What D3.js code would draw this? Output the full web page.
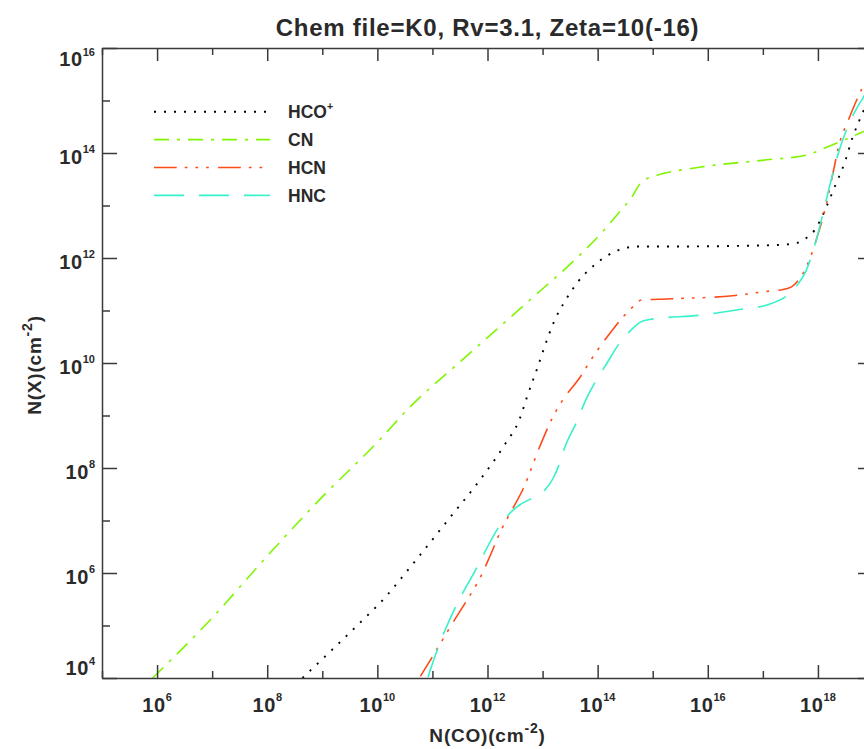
<!DOCTYPE html>
<html>
<head>
<meta charset="utf-8">
<script src="https://cdn.jsdelivr.net/npm/d3@7"></script>
<style>
  html, body { margin: 0; padding: 0; background: #fff; overflow: hidden; }
  svg { display: block; }
  text { font-family: "Liberation Sans", Arial, Helvetica, sans-serif; font-weight: bold; fill: #2a2a2a; }
</style>
</head>
<body>
<svg id="chart" width="864" height="749"></svg>
<script>
// Column densities N(X) against N(CO), both as log10(cm^-2).
const titleText = "Chem file=K0, Rv=3.1, Zeta=10(-16)";

const xMajorExps = [6, 8, 10, 12, 14, 16, 18];
const xMinorExps = [5, 7, 9, 11, 13, 15, 17, 19];
const yMajorExps = [4, 6, 8, 10, 12, 14, 16];
const yMinorExps = [5, 7, 9, 11, 13, 15];

const seriesNames = ["HCO", "CN", "HCN", "HNC"];
const seriesSups  = ["+", "", "", ""];

const hcoLogCO = [8.64, 9.2, 9.77, 10.04, 10.65, 11.26, 11.86, 12.31, 12.59, 12.71, 12.9, 13.09, 13.23, 13.42, 13.63, 13.89, 14.2, 14.55, 14.75, 15.5, 16.5, 17.3, 17.63, 17.79, 17.94, 18.03, 18.18, 18.33, 18.48, 18.63, 18.81, 19.0];
const hcoLogN  = [4.0, 4.56, 5.14, 5.42, 6.18, 6.98, 7.77, 8.44, 8.95, 9.33, 9.89, 10.47, 10.84, 11.2, 11.53, 11.82, 12.06, 12.2, 12.22, 12.22, 12.23, 12.25, 12.29, 12.38, 12.53, 12.69, 13.04, 13.42, 13.8, 14.3, 14.76, 15.2];

const cnLogCO = [5.92, 6.96, 8.05, 9.0, 10.0, 10.59, 11.5, 12.77, 13.68, 14.09, 14.4, 14.62, 14.76, 14.91, 15.09, 15.85, 17.07, 17.79, 18.16, 18.39, 18.81, 19.0];
const cnLogN  = [4.0, 5.1, 6.38, 7.45, 8.49, 9.16, 10.02, 11.2, 12.06, 12.5, 12.88, 13.16, 13.4, 13.52, 13.58, 13.73, 13.87, 13.96, 14.11, 14.21, 14.4, 14.48];

const hcnLogCO = [10.78, 10.98, 11.38, 11.59, 11.89, 12.04, 12.25, 12.46, 12.65, 12.95, 13.19, 13.37, 13.68, 13.91, 14.27, 14.64, 14.8, 15.25, 16.45, 17.12, 17.31, 17.52, 17.67, 17.79, 17.91, 18.0, 18.12, 18.27, 18.39, 18.55, 18.7, 18.82, 19.0];
const hcnLogN  = [4.03, 4.37, 5.07, 5.42, 5.96, 6.31, 6.82, 7.23, 7.61, 8.41, 8.98, 9.3, 9.73, 10.11, 10.63, 11.07, 11.2, 11.22, 11.28, 11.37, 11.39, 11.45, 11.61, 11.83, 12.15, 12.45, 12.88, 13.6, 14.18, 14.62, 15.0, 15.27, 15.65];

const hncLogCO = [10.92, 11.1, 11.41, 11.8, 12.19, 12.37, 12.59, 12.8, 13.04, 13.19, 13.31, 13.4, 13.62, 13.8, 13.98, 14.13, 14.4, 14.61, 14.76, 14.95, 15.85, 16.7, 17.06, 17.49, 17.67, 17.79, 17.97, 18.1, 18.21, 18.39, 18.57, 18.72, 18.83, 19.0];
const hncLogN  = [4.02, 4.57, 5.33, 6.09, 6.85, 7.1, 7.3, 7.42, 7.58, 7.8, 8.09, 8.38, 8.88, 9.33, 9.68, 9.93, 10.38, 10.63, 10.77, 10.83, 10.91, 11.04, 11.1, 11.33, 11.55, 11.77, 12.34, 12.88, 13.36, 14.06, 14.57, 14.88, 15.07, 15.4];

const seriesCO = [hcoLogCO, cnLogCO, hcnLogCO, hncLogCO];
const seriesN  = [hcoLogN, cnLogN, hcnLogN, hncLogN];

const seriesColors = ["#000000", "#7ff500", "#ff4a1a", "#35f2c8"];
const seriesDashes = ["2,8", "15,8,3,8", "22.7,8,2.7,8,2.7,8,2.7,9.3", "30,15"];
const seriesWidths = [1.9, 1.6, 1.6, 1.6];

// ---- layout ----
const plot = { left: 102, top: 48, right: 873, bottom: 678 };

const svg = d3.select("#chart");

const x = d3.scaleLog().domain([1e5, 1e19]).range([plot.left, plot.right]);
const y = d3.scaleLog().domain([1e4, 1e16]).range([plot.bottom, plot.top]);

svg.append("defs").append("clipPath").attr("id", "plotClip")
  .append("rect")
  .attr("x", plot.left).attr("y", plot.top)
  .attr("width", plot.right - plot.left).attr("height", plot.bottom - plot.top);

// ---- curves ----
const line = d3.line()
  .x(d => x(Math.pow(10, d[0])))
  .y(d => y(Math.pow(10, d[1])))
  .curve(d3.curveMonotoneX);

const curves = svg.append("g").attr("clip-path", "url(#plotClip)");
seriesNames.forEach((name, i) => {
  curves.append("path")
    .datum(d3.zip(seriesCO[i], seriesN[i]))
    .attr("fill", "none")
    .attr("stroke", seriesColors[i])
    .attr("stroke-width", seriesWidths[i])
    .attr("stroke-dasharray", seriesDashes[i])
    .attr("d", line);
});

// ---- axes: ticks point inward on all four sides ----
const axisColor = "#3a3a3a";
function styleAxis(g) {
  g.selectAll("path, line").attr("stroke", axisColor).attr("stroke-width", 1.5);
  g.selectAll("text").remove();
}
function addAxis(axis, exps, size, tx, ty, keepDomain) {
  const g = svg.append("g").attr("transform", `translate(${tx},${ty})`)
    .call(axis.tickValues(exps.map(e => Math.pow(10, e))).tickSize(size).tickSizeOuter(0).tickFormat(""));
  if (!keepDomain) g.select(".domain").remove();
  styleAxis(g);
}
// bottom
addAxis(d3.axisTop(x), xMajorExps, 13, 0, plot.bottom, true);
addAxis(d3.axisTop(x), xMinorExps, 7, 0, plot.bottom, false);
// top
addAxis(d3.axisBottom(x), xMajorExps, 13, 0, plot.top, true);
addAxis(d3.axisBottom(x), xMinorExps, 7, 0, plot.top, false);
// left
addAxis(d3.axisRight(y), yMajorExps, 15, plot.left, 0, true);
addAxis(d3.axisRight(y), yMinorExps, 8, plot.left, 0, false);
// right
addAxis(d3.axisLeft(y), yMajorExps, 15, plot.right, 0, true);
addAxis(d3.axisLeft(y), yMinorExps, 8, plot.right, 0, false);

// ---- tick labels (10 with superscript exponent) ----
function powerLabel(sel, exp) {
  sel.append("tspan").text("10");
  sel.append("tspan").attr("dy", -10.5).style("font-size", "11px").style("letter-spacing", "0px").text(exp);
}
xMajorExps.forEach(e => {
  const t = svg.append("text")
    .attr("x", x(Math.pow(10, e)))
    .attr("y", 711.5)
    .attr("text-anchor", "middle")
    .style("font-size", "20px")
    .style("letter-spacing", "0.6px");
  powerLabel(t, e);
});
yMajorExps.forEach(e => {
  let off = 10.5;
  if (e === yMajorExps[0]) off = -3;
  if (e === yMajorExps[yMajorExps.length - 1]) off = 18;
  const t = svg.append("text")
    .attr("x", 95)
    .attr("y", y(Math.pow(10, e)) + off)
    .attr("text-anchor", "end")
    .style("font-size", "20px")
    .style("letter-spacing", "0.6px");
  powerLabel(t, e);
});

// ---- title and axis titles ----
svg.append("text")
  .attr("x", (plot.left + plot.right) / 2)
  .attr("y", 36)
  .attr("text-anchor", "middle")
  .style("font-size", "24px")
  .style("letter-spacing", "0.75px")
  .text(titleText);

const xTitle = svg.append("text")
  .attr("x", (plot.left + plot.right) / 2)
  .attr("y", 741.5)
  .attr("text-anchor", "middle")
  .style("font-size", "19px")
  .style("letter-spacing", "0.8px");
xTitle.append("tspan").text("N(CO)(cm");
xTitle.append("tspan").attr("dy", -9).style("font-size", "14px").text("-2");
xTitle.append("tspan").attr("dy", 9).text(")");

const yTitle = svg.append("text")
  .attr("transform", `translate(41,${(plot.top + plot.bottom) / 2 + 2}) rotate(-90)`)
  .attr("text-anchor", "middle")
  .style("font-size", "19px")
  .style("letter-spacing", "0.8px");
yTitle.append("tspan").text("N(X)(cm");
yTitle.append("tspan").attr("dy", -9).style("font-size", "14px").text("-2");
yTitle.append("tspan").attr("dy", 9).text(")");

// ---- legend ----
const legendY0 = 111.7, legendStep = 27.9;
const legend = svg.append("g");
seriesNames.forEach((name, i) => {
  const ly = legendY0 + i * legendStep;
  legend.append("line")
    .attr("x1", 154).attr("x2", 270)
    .attr("y1", ly).attr("y2", ly)
    .attr("stroke", seriesColors[i])
    .attr("stroke-width", seriesWidths[i])
    .attr("stroke-dasharray", seriesDashes[i]);
  const t = legend.append("text")
    .attr("x", 288).attr("y", ly + 6.5)
    .style("font-size", "17.5px");
  t.append("tspan").text(name);
  if (seriesSups[i]) {
    t.append("tspan").attr("dy", -8).style("font-size", "10.5px").text(seriesSups[i]);
  }
});
</script>
</body>
</html>
